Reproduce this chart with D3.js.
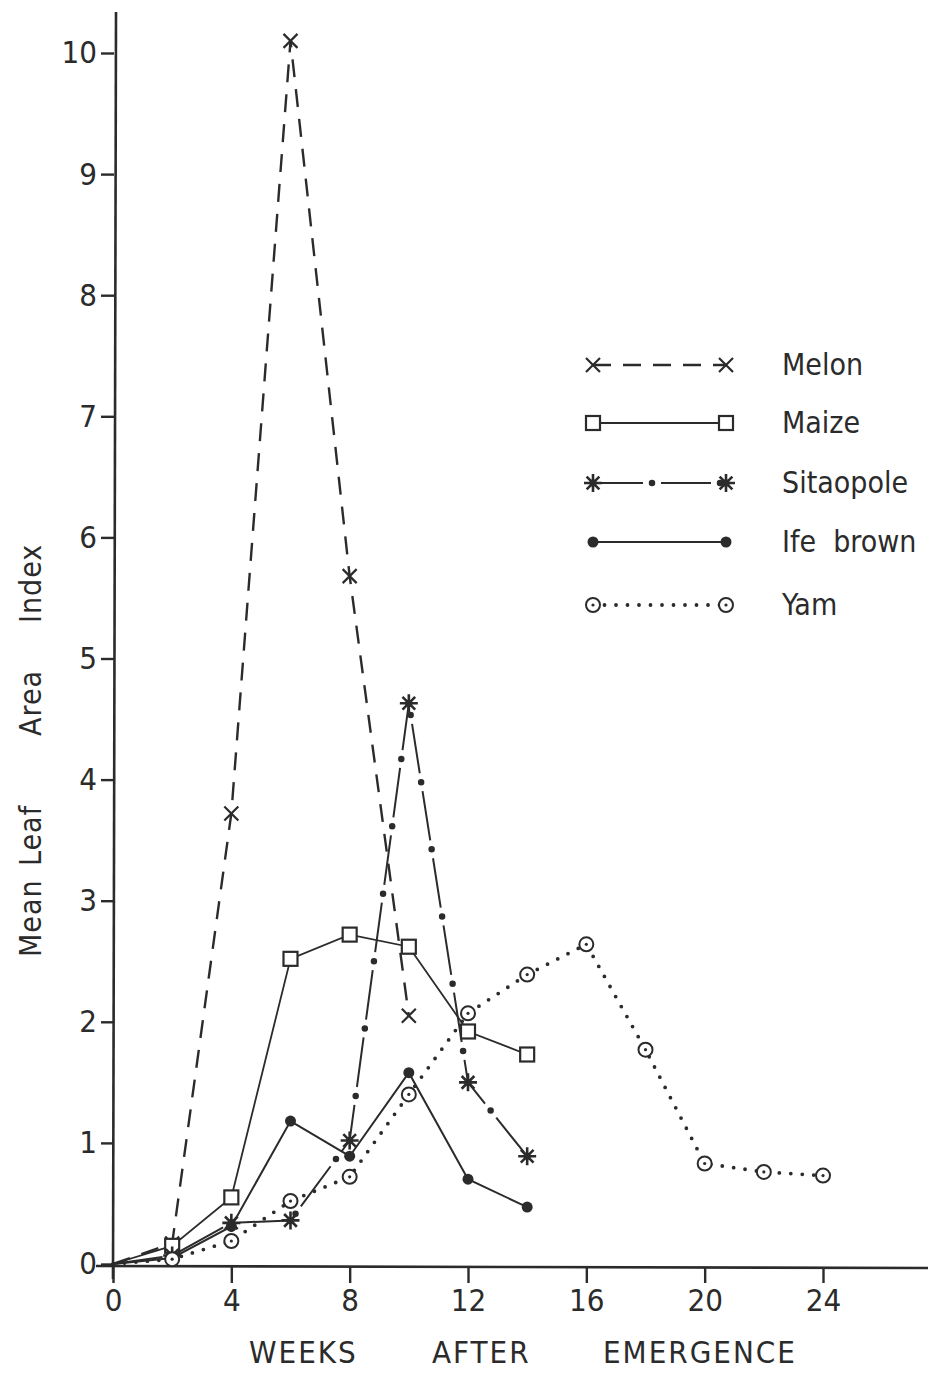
<!DOCTYPE html>
<html>
<head>
<meta charset="utf-8">
<script src="https://cdn.jsdelivr.net/npm/d3@7"></script>
<style>
  html, body { margin: 0; padding: 0; background: #fff; }
  svg { display: block; }
  text { font-family: "Liberation Sans Narrow", "DejaVu Sans Condensed", "Roboto", sans-serif; fill: #2b2b2b; }
</style>
</head>
<body>
<svg id="chart" width="947" height="1373"></svg>
<script>
// Weeks after emergence at which leaf area index was sampled
const weeks = [0, 2, 4, 6, 8, 10, 12, 14];
const yamWeeks = [0, 2, 4, 6, 8, 10, 12, 14, 16, 18, 20, 22, 24];
const melonWeeks = [0, 2, 4, 6, 8, 10];

// Mean leaf area index per crop
const melon = [0, 0.17, 3.72, 10.1, 5.68, 2.05];
const maize = [0, 0.15, 0.55, 2.52, 2.72, 2.62, 1.92, 1.73];
const sitaopole = [0, 0.07, 0.34, 0.36, 1.02, 4.63, 1.5, 0.89];
const ifeBrown = [0, 0.05, 0.31, 1.18, 0.89, 1.58, 0.7, 0.47];
const yam = [0, 0.04, 0.19, 0.52, 0.72, 1.4, 2.07, 2.39, 2.64, 1.77, 0.83, 0.76, 0.73];

const xTicks = [0, 4, 8, 12, 16, 20, 24];
const yTicks = [0, 1, 2, 3, 4, 5, 6, 7, 8, 9, 10];
const legendNames = ["Melon", "Maize", "Sitaopole", "Ife  brown", "Yam"];

const ink = "#2b2b2b";
const svg = d3.select("#chart");

const x = d3.scaleLinear().domain([0, 24]).range([113, 823]);
const y = d3.scaleLinear().domain([0, 10]).range([1264, 53]);

// ---- axes ----
const axes = svg.append("g");
axes.append("line").attr("x1", 113).attr("x2", 116).attr("y1", 1279).attr("y2", 12)
  .attr("stroke", ink).attr("stroke-width", 2.6);
axes.append("line").attr("x1", 96).attr("x2", 928).attr("y1", y(0) + 2).attr("y2", y(0) + 4)
  .attr("stroke", ink).attr("stroke-width", 2.6);

const yAxis = d3.axisLeft(y).tickValues(yTicks).tickSize(13).tickPadding(4).tickFormat(d3.format("d"));
const gy = axes.append("g").attr("transform", "translate(114,0)").call(yAxis);
gy.select(".domain").remove();
gy.selectAll(".tick line").attr("stroke", ink).attr("stroke-width", 2.4);
gy.selectAll(".tick text").attr("font-size", 31).attr("fill", ink)
  .attr("font-family", "'Liberation Sans Narrow', 'DejaVu Sans Condensed', sans-serif");

const xAxis = d3.axisBottom(x).tickValues(xTicks).tickSize(16).tickPadding(6).tickFormat(d3.format("d"));
const gx = axes.append("g").attr("transform", `translate(0,${y(0) + 3})`).call(xAxis);
gx.select(".domain").remove();
gx.selectAll(".tick line").attr("stroke", ink).attr("stroke-width", 2.4);
gx.selectAll(".tick text").attr("font-size", 31).attr("fill", ink)
  .attr("font-family", "'Liberation Sans Narrow', 'DejaVu Sans Condensed', sans-serif");

// ---- axis titles (spaced-out words) ----
const yTitle = svg.append("text").attr("transform", "rotate(-90)")
  .attr("y", 41).attr("font-size", 30).attr("letter-spacing", 1);
[["Mean", 957], ["Leaf", 866], ["Area", 736], ["Index", 623]].forEach(([w, pos]) =>
  yTitle.append("tspan").attr("x", -pos).text(w));

const xTitle = svg.append("text").attr("y", 1363).attr("font-size", 31).attr("letter-spacing", 2);
[["WEEKS", 249], ["AFTER", 432], ["EMERGENCE", 603]].forEach(([w, pos]) =>
  xTitle.append("tspan").attr("x", pos).text(w));

// ---- marker shapes ----
function drawMarker(g, type, cx, cy) {
  if (type === "cross") {
    const s = 7;
    g.append("path").attr("d", `M${cx - s},${cy - s}L${cx + s},${cy + s}M${cx + s},${cy - s}L${cx - s},${cy + s}`)
      .attr("stroke", ink).attr("stroke-width", 2.2).attr("fill", "none");
  } else if (type === "square") {
    const s = 7;
    g.append("rect").attr("x", cx - s).attr("y", cy - s).attr("width", 2 * s).attr("height", 2 * s)
      .attr("fill", "#fff").attr("stroke", ink).attr("stroke-width", 2.2);
  } else if (type === "star") {
    const r = 9;
    let d = "";
    for (let i = 0; i < 4; i++) {
      const a = i * Math.PI / 4;
      d += `M${cx - r * Math.cos(a)},${cy - r * Math.sin(a)}L${cx + r * Math.cos(a)},${cy + r * Math.sin(a)}`;
    }
    g.append("path").attr("d", d).attr("stroke", ink).attr("stroke-width", 2.6).attr("fill", "none");
    g.append("circle").attr("cx", cx).attr("cy", cy).attr("r", 3.5).attr("fill", ink);
  } else if (type === "dot") {
    g.append("circle").attr("cx", cx).attr("cy", cy).attr("r", 5.5).attr("fill", ink);
  } else if (type === "ring") {
    g.append("circle").attr("cx", cx).attr("cy", cy).attr("r", 7)
      .attr("fill", "#fff").attr("stroke", ink).attr("stroke-width", 2);
    g.append("circle").attr("cx", cx).attr("cy", cy).attr("r", 1.6).attr("fill", ink);
  }
}

// ---- line styles ----
function styleLine(g, type, path) {
  if (type === "cross") {
    g.append("path").attr("d", path).attr("fill", "none").attr("stroke", ink)
      .attr("stroke-width", 2.4).attr("stroke-dasharray", "18 12");
  } else if (type === "square") {
    g.append("path").attr("d", path).attr("fill", "none").attr("stroke", ink).attr("stroke-width", 1.8);
  } else if (type === "star") {
    g.append("path").attr("d", path).attr("fill", "none").attr("stroke", ink)
      .attr("stroke-width", 2).attr("stroke-dasharray", "50 18");
    g.append("path").attr("d", path).attr("fill", "none").attr("stroke", ink)
      .attr("stroke-width", 6.5).attr("stroke-linecap", "round")
      .attr("stroke-dasharray", "0 68").attr("stroke-dashoffset", -59);
  } else if (type === "dot") {
    g.append("path").attr("d", path).attr("fill", "none").attr("stroke", ink).attr("stroke-width", 2);
  } else if (type === "ring") {
    g.append("path").attr("d", path).attr("fill", "none").attr("stroke", ink)
      .attr("stroke-width", 3.8).attr("stroke-linecap", "round").attr("stroke-dasharray", "0 11.5");
  }
}

const series = [
  { name: legendNames[0], type: "cross", xs: melonWeeks, ys: melon },
  { name: legendNames[1], type: "square", xs: weeks, ys: maize },
  { name: legendNames[2], type: "star", xs: weeks, ys: sitaopole },
  { name: legendNames[3], type: "dot", xs: weeks, ys: ifeBrown },
  { name: legendNames[4], type: "ring", xs: yamWeeks, ys: yam }
];

const line = d3.line().x(d => x(d[0])).y(d => y(d[1]));

const linesG = svg.append("g");
series.forEach(s => {
  const pts = s.xs.map((w, i) => [w, s.ys[i]]);
  styleLine(linesG, s.type, line(pts));
});
const markG = svg.append("g");
series.forEach(s => {
  s.xs.forEach((w, i) => { if (w > 0) drawMarker(markG, s.type, x(w), y(s.ys[i])); });
});

// ---- legend ----
const legend = svg.append("g");
const legendRows = [365, 423, 483, 542, 605];
series.forEach((s, i) => {
  const ly = legendRows[i];
  const x0 = 593, x1 = 726;
  styleLine(legend, s.type, `M${x0},${ly}L${x1},${ly}`);
  drawMarker(legend, s.type, x0, ly);
  drawMarker(legend, s.type, x1, ly);
  legend.append("text").attr("x", 782).attr("y", ly + 10).attr("font-size", 30)
    .attr("xml:space", "preserve").style("white-space", "pre").text(s.name);
});
</script>
</body>
</html>
